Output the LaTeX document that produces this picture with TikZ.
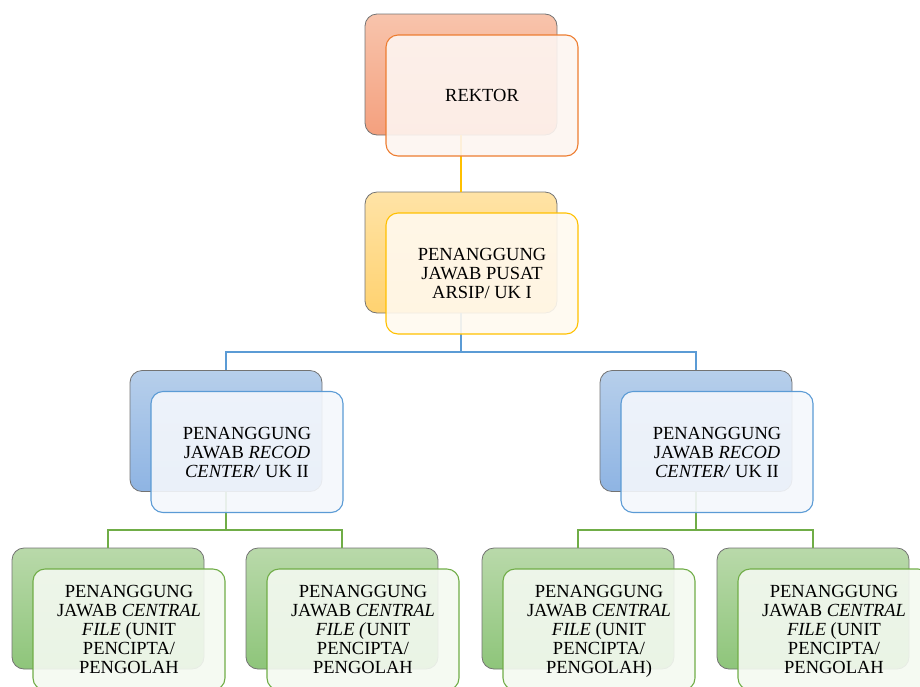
\documentclass[tikz,border=0pt]{standalone}
\usepackage{fontspec}
\setmainfont{Liberation Serif}
\definecolor{orA}{HTML}{F8C4AC}\definecolor{orB}{HTML}{F4A07E}\definecolor{orL}{HTML}{ED7D31}\definecolor{orF}{HTML}{FDF5F1}
\definecolor{yeA}{HTML}{FFE3A6}\definecolor{yeB}{HTML}{FFD270}\definecolor{yeL}{HTML}{FFC000}\definecolor{yeF}{HTML}{FFF9EF}
\definecolor{blA}{HTML}{B7CFEB}\definecolor{blB}{HTML}{8EB4E3}\definecolor{blL}{HTML}{5B9BD5}\definecolor{blF}{HTML}{F4F7FC}
\definecolor{grA}{HTML}{B9D9AA}\definecolor{grB}{HTML}{8EC57A}\definecolor{grL}{HTML}{70AD47}\definecolor{grF}{HTML}{F4F9F1}
\begin{document}
\begin{tikzpicture}[x=1pt,y=-1pt,
  backbox/.style={rectangle, rounded corners=12pt, minimum width=192pt, minimum height=121pt,
    draw=black!55, line width=0.8pt, inner sep=0pt},
  frontbox/.style={rectangle, rounded corners=12pt, minimum width=192pt, minimum height=121pt,
    line width=1.1pt, fill opacity=0.9, text opacity=1, align=center,
    font=\fontsize{18.5}{19}\selectfont, inner sep=0pt},
  orback/.style={backbox, top color=orA, bottom color=orB},
  yeback/.style={backbox, top color=yeA, bottom color=yeB},
  blback/.style={backbox, top color=blA, bottom color=blB},
  grback/.style={backbox, top color=grA, bottom color=grB},
  orfront/.style={frontbox, draw=orL, fill=orF},
  yefront/.style={frontbox, draw=yeL, fill=yeF},
  blfront/.style={frontbox, draw=blL, fill=blF},
  grfront/.style={frontbox, draw=grL, fill=grF},
  conn/.style={line width=2pt}]
\useasboundingbox (0,0) rectangle (920,686);
\clip (0,0) rectangle (920,686);
% back boxes
\node[orback] (r-b) at (461,74.5) {};
\node[yeback] (p-b) at (461,252.5) {};
\node[blback] (la-b) at (226,431) {};
\node[blback] (lb-b) at (696,431) {};
\node[grback] (ca-b) at (108,608.5) {};
\node[grback] (cb-b) at (342,608.5) {};
\node[grback] (cc-b) at (578,608.5) {};
\node[grback] (cd-b) at (813,608.5) {};
% connectors
\coordinate (j1) at (461,352);
\coordinate (j2) at (226,530);
\coordinate (j3) at (696,530);
\draw[conn, yeL] (r-b.south) -- (p-b.north);
\draw[conn, blL] (p-b.south) -- (j1) -| (la-b.north);
\draw[conn, blL] (j1) -| (lb-b.north);
\draw[conn, grL] (la-b.south) -- (j2) -| (ca-b.north);
\draw[conn, grL] (j2) -| (cb-b.north);
\draw[conn, grL] (lb-b.south) -- (j3) -| (cc-b.north);
\draw[conn, grL] (j3) -| (cd-b.north);
% front boxes
\node[orfront] (r-f) at (482,95.5) {REKTOR};
\node[yefront] (p-f) at (482,273.5) {PENANGGUNG\\JAWAB PUSAT\\ARSIP/ UK I};
\node[blfront] (la-f) at (247,452) {PENANGGUNG\\JAWAB \textit{RECOD}\\\textit{CENTER/} UK II};
\node[blfront] (lb-f) at (717,452) {PENANGGUNG\\JAWAB \textit{RECOD}\\\textit{CENTER/} UK II};
\node[grfront] (ca-f) at (129,629.5) {PENANGGUNG\\JAWAB \textit{CENTRAL}\\\textit{FILE} (UNIT\\PENCIPTA/\\PENGOLAH};
\node[grfront] (cb-f) at (363,629.5) {PENANGGUNG\\JAWAB \textit{CENTRAL}\\\textit{FILE (}UNIT\\PENCIPTA/\\PENGOLAH};
\node[grfront] (cc-f) at (599,629.5) {PENANGGUNG\\JAWAB \textit{CENTRAL}\\\textit{FILE} (UNIT\\PENCIPTA/\\PENGOLAH\smash{)}};
\node[grfront] (cd-f) at (834,629.5) {PENANGGUNG\\JAWAB \textit{CENTRAL}\\\textit{FILE} (UNIT\\PENCIPTA/\\PENGOLAH};
\end{tikzpicture}
\end{document}
